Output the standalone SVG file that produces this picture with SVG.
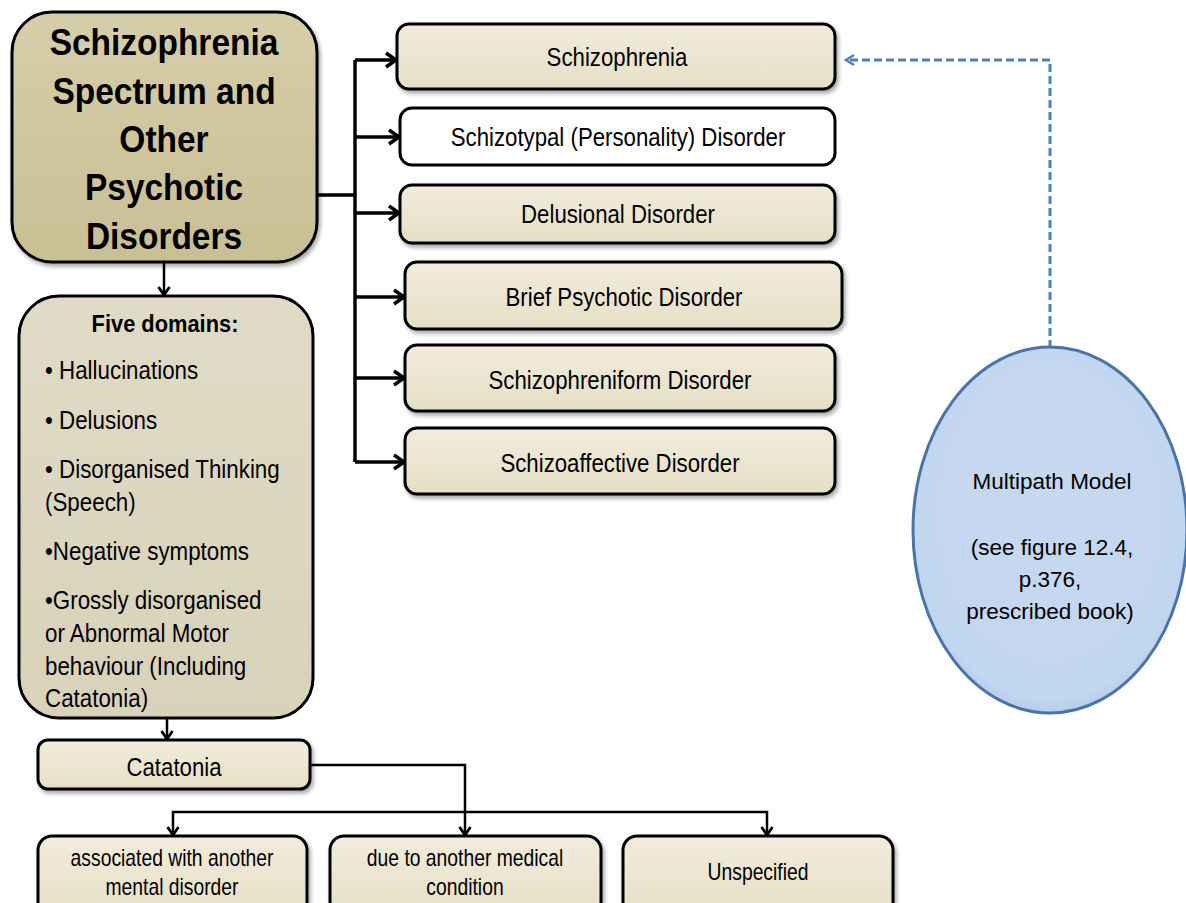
<svg xmlns="http://www.w3.org/2000/svg" width="1186" height="903" viewBox="0 0 1186 903">
<defs>
<style>
.t{font-family:"Liberation Sans",Arial,sans-serif;fill:#000;}
.box{fill:url(#g1);stroke:#000;stroke-width:3;filter:url(#sh);}
.conn{fill:none;stroke:#000;stroke-width:3.5;}
.thin{stroke-width:2.5;}
.c{text-anchor:middle;font-size:26px;}
</style>
<linearGradient id="g1" x1="0" y1="0" x2="0" y2="1"><stop offset="0" stop-color="#f1ecdc"/><stop offset="1" stop-color="#e6dfc6"/></linearGradient>
<linearGradient id="g0" x1="0" y1="0" x2="0" y2="1"><stop offset="0" stop-color="#d6cea9"/><stop offset="1" stop-color="#c9bf95"/></linearGradient>
<linearGradient id="g2" x1="0" y1="0" x2="0" y2="1"><stop offset="0" stop-color="#e0dbc6"/><stop offset="1" stop-color="#d8d2ba"/></linearGradient>
<radialGradient id="ge" cx="0.5" cy="0.45" r="0.6"><stop offset="0" stop-color="#c6d9f1"/><stop offset="0.85" stop-color="#c3d6ef"/><stop offset="1" stop-color="#a9c2e3"/></radialGradient>
<filter id="sh" x="-10%" y="-10%" width="120%" height="130%"><feDropShadow dx="2" dy="3" stdDeviation="2" flood-color="#000" flood-opacity="0.35"/></filter>
<marker id="ar" viewBox="0 0 14 18" refX="12" refY="9" markerWidth="14" markerHeight="18" markerUnits="userSpaceOnUse" orient="auto"><path d="M2,2 L12,9 L2,16" fill="none" stroke="#000" stroke-width="3.5"/></marker>
<marker id="ars" viewBox="0 0 12 14" refX="10" refY="7" markerWidth="12" markerHeight="14" markerUnits="userSpaceOnUse" orient="auto"><path d="M2,1.5 L10,7 L2,12.5" fill="none" stroke="#000" stroke-width="2.8"/></marker>
<marker id="arb" viewBox="0 0 12 14" refX="10" refY="7" markerWidth="12" markerHeight="14" markerUnits="userSpaceOnUse" orient="auto"><path d="M2,2 L10,7 L2,12" fill="none" stroke="#4f81bd" stroke-width="2.5"/></marker>
</defs>
<g id="connectors">
<path class="conn" d="M317,195 H355"/>
<path class="conn" d="M355,60 V462"/>
<path class="conn" d="M355,60 H396" marker-end="url(#ar)"/>
<path class="conn" d="M355,137 H399" marker-end="url(#ar)"/>
<path class="conn" d="M355,213 H399" marker-end="url(#ar)"/>
<path class="conn" d="M355,297 H404" marker-end="url(#ar)"/>
<path class="conn" d="M355,378 H404" marker-end="url(#ar)"/>
<path class="conn" d="M355,462 H404" marker-end="url(#ar)"/>
<path class="conn thin" d="M164,262 V295" marker-end="url(#ars)"/>
<path class="conn thin" d="M167,718 V739" marker-end="url(#ars)"/>
<path class="conn thin" d="M310,765 H465 V835" marker-end="url(#ars)"/>
<path class="conn thin" d="M465,812 H173 V835" marker-end="url(#ars)"/>
<path class="conn thin" d="M465,812 H767 V835" marker-end="url(#ars)"/>
<path fill="none" stroke="#4f81bd" stroke-width="3" stroke-dasharray="8,4" d="M1050,348 V60 H846" marker-end="url(#arb)"/>
</g>
<g id="main">
<rect x="12" y="12" width="305" height="250" rx="40" fill="url(#g0)" stroke="#000" stroke-width="3" filter="url(#sh)"/>
<g transform="translate(164,0) scale(0.905,1)">
<text class="t" text-anchor="middle" font-weight="bold" font-size="37"><tspan x="0" y="55">Schizophrenia</tspan><tspan x="0" y="104">Spectrum and</tspan><tspan x="0" y="152">Other</tspan><tspan x="0" y="200">Psychotic</tspan><tspan x="0" y="249">Disorders</tspan></text>
</g>
</g>
<g id="n1"><rect class="box" x="397" y="24" width="438" height="65" rx="12"/><text class="t c" transform="translate(617,66) scale(0.855,1)">Schizophrenia</text></g>
<g id="n2"><rect x="400" y="108" width="435" height="57" rx="12" fill="#fff" stroke="#000" stroke-width="3"/><text class="t c" transform="translate(618,146) scale(0.855,1)">Schizotypal (Personality) Disorder</text></g>
<g id="n3"><rect class="box" x="400" y="185" width="435" height="58" rx="12"/><text class="t c" transform="translate(618,223) scale(0.855,1)">Delusional Disorder</text></g>
<g id="n4"><rect class="box" x="405" y="262" width="437" height="67" rx="12"/><text class="t c" transform="translate(624,306) scale(0.855,1)">Brief Psychotic Disorder</text></g>
<g id="n5"><rect class="box" x="405" y="345" width="430" height="66" rx="12"/><text class="t c" transform="translate(620,389) scale(0.855,1)">Schizophreniform Disorder</text></g>
<g id="n6"><rect class="box" x="405" y="428" width="430" height="66" rx="12"/><text class="t c" transform="translate(620,472) scale(0.855,1)">Schizoaffective Disorder</text></g>
<g id="domains">
<rect x="19" y="296" width="294" height="422" rx="40" fill="url(#g2)" stroke="#000" stroke-width="3"/>
<text class="t" transform="translate(165,332) scale(0.91,1)" text-anchor="middle" font-weight="bold" font-size="24">Five domains:</text>
<g transform="translate(45,0) scale(0.86,1)">
<text class="t" font-size="26"><tspan x="0" y="379">• Hallucinations</tspan><tspan x="0" y="429">• Delusions</tspan><tspan x="0" y="478">• Disorganised Thinking</tspan><tspan x="0" y="511">(Speech)</tspan><tspan x="0" y="560">•Negative symptoms</tspan><tspan x="0" y="609">•Grossly disorganised</tspan><tspan x="0" y="642">or Abnormal Motor</tspan><tspan x="0" y="675">behaviour (Including</tspan><tspan x="0" y="707">Catatonia)</tspan></text>
</g>
</g>
<g id="catatonia"><rect class="box" x="38" y="740" width="272" height="49" rx="10"/><text class="t c" transform="translate(174,776) scale(0.855,1)">Catatonia</text></g>
<g id="b1"><rect class="box" x="38" y="836" width="269" height="80" rx="14"/><g transform="translate(172,0) scale(0.84,1)"><text class="t" text-anchor="middle" font-size="23"><tspan x="0" y="866">associated with another</tspan><tspan x="0" y="895">mental disorder</tspan></text></g></g>
<g id="b2"><rect class="box" x="330" y="836" width="271" height="80" rx="14"/><g transform="translate(465,0) scale(0.84,1)"><text class="t" text-anchor="middle" font-size="23"><tspan x="0" y="866">due to another medical</tspan><tspan x="0" y="895">condition</tspan></text></g></g>
<g id="b3"><rect class="box" x="623" y="836" width="270" height="80" rx="14"/><text class="t" text-anchor="middle" font-size="23" transform="translate(758,880) scale(0.84,1)">Unspecified</text></g>
<g id="multipath">
<ellipse cx="1050" cy="530" rx="137" ry="183" fill="url(#ge)" stroke="#4a74a8" stroke-width="3"/>
<text class="t" font-size="22.5" text-anchor="middle"><tspan x="1052" y="489">Multipath Model</tspan><tspan x="1052" y="555">(see figure 12.4,</tspan><tspan x="1050" y="587">p.376,</tspan><tspan x="1050" y="619">prescribed book)</tspan></text>
</g>
</svg>
